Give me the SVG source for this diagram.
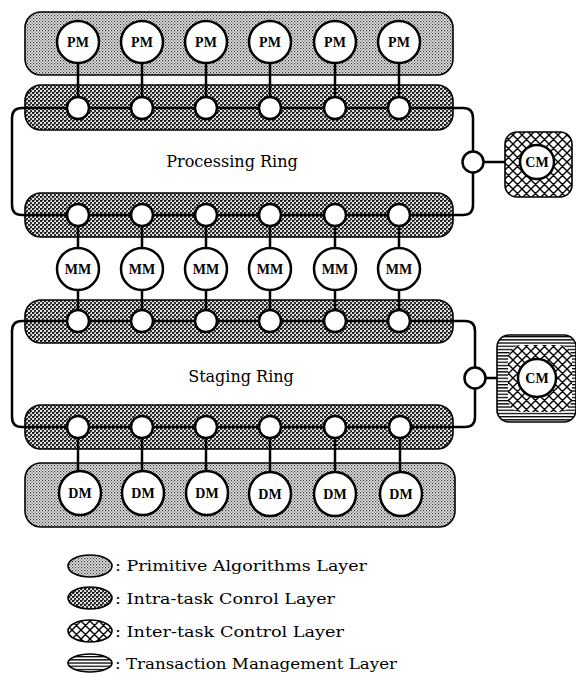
<svg xmlns="http://www.w3.org/2000/svg" width="576" height="673" viewBox="0 0 576 673">
<defs>
<pattern id="pPrim" width="3" height="3" patternUnits="userSpaceOnUse">
<rect width="3" height="3" fill="#e6e6e6"/>
<rect x="0" y="0" width="1.2" height="1.2" fill="#333"/>
<rect x="1.5" y="1.5" width="1.2" height="1.2" fill="#555"/>
</pattern>
<pattern id="pIntra" width="4" height="4" patternUnits="userSpaceOnUse">
<rect width="4" height="4" fill="#e0e0e0"/>
<rect x="0" y="0" width="2" height="2" fill="#222"/>
<rect x="2" y="2" width="2" height="2" fill="#333"/>
<rect x="2" y="0" width="1" height="1" fill="#555"/>
</pattern>
<pattern id="pInter" width="9" height="9" patternUnits="userSpaceOnUse">
<rect width="9" height="9" fill="#fff"/>
<path d="M0 0 L9 9 M9 0 L0 9 M-1 8 L1 10 M8 -1 L10 1 M-1 1 L1 -1 M8 10 L10 8" stroke="#000" stroke-width="1.4"/>
</pattern>
<pattern id="pTrans" width="4" height="3.2" patternUnits="userSpaceOnUse">
<rect width="4" height="3.2" fill="#fff"/>
<rect y="0" width="4" height="1.3" fill="#000"/>
</pattern>
</defs>
<style>
.band{stroke:#000;stroke-width:1.6}
.prim{fill:url(#pPrim)}
.intra{fill:url(#pIntra)}
.inter{fill:url(#pInter)}
.trans{fill:url(#pTrans)}
.wire{fill:none;stroke:#000;stroke-width:2.5}
.node{fill:#fff;stroke:#000;stroke-width:2.5}
.mod{fill:#fff;stroke:#000;stroke-width:2.5}
.lbl{font-family:"Liberation Serif",serif;font-weight:bold;font-size:14px;text-anchor:middle}
.ring{font-family:"DejaVu Serif","Liberation Serif",serif;font-size:16px;text-anchor:middle}
.leg{font-family:"DejaVu Serif","Liberation Serif",serif;font-size:15px}
.legsh{stroke:#000;stroke-width:1.6}
</style>

<g id="layers">
<rect id="pm-band" class="band prim" x="25" y="12" width="428" height="63" rx="16"/>
<rect id="intra-band-1" class="band intra" x="25" y="85" width="428" height="45" rx="16"/>
<rect id="intra-band-2" class="band intra" x="25" y="193" width="428" height="44" rx="16"/>
<rect id="intra-band-3" class="band intra" x="25" y="300" width="428" height="43" rx="16"/>
<rect id="intra-band-4" class="band intra" x="25" y="405" width="428" height="44" rx="16"/>
<rect id="dm-band" class="band prim" x="25" y="463" width="430" height="64" rx="16"/>
</g>

<g id="connectors">
<path class="wire" d="M399 108 H22 Q12 108 12 118 V205 Q12 215 22 215 H463 Q473 215 473 205 V118 Q473 108 463 108 H399"/>
<path class="wire" d="M399 321 H22 Q12 321 12 331 V417 Q12 427 22 427 H465 Q475 427 475 417 V331 Q475 321 465 321 H399"/>
<line class="wire" x1="473" y1="162" x2="520" y2="162"/>
<line class="wire" x1="475" y1="378" x2="518" y2="378"/>
<g id="verticals">
<path class="wire" d="M78 64 V108 M142 64 V108 M206 64 V108 M270 64 V108 M335 64 V108 M399 64 V108"/>
<path class="wire" d="M78 215 V321 M142 215 V321 M206 215 V321 M270 215 V321 M335 215 V321 M399 215 V321"/>
<path class="wire" d="M78 427 V472 M142 427 V472 M206 427 V472 M270 427 V472 M335 427 V472 M400 427 V472"/>
</g>
</g>

<g id="cm-processing">
<rect class="band inter" x="505" y="132" width="67" height="65" rx="12" stroke-width="2"/>
<circle class="mod" cx="537" cy="162" r="17"/>
<text class="lbl" x="537" y="167">CM</text>
</g>
<g id="cm-staging">
<rect class="band trans" x="497" y="335" width="79" height="87" rx="12" stroke-width="2"/>
<rect class="inter" x="508" y="345" width="64" height="67" rx="14"/>
<circle class="mod" cx="537" cy="378" r="19"/>
<text class="lbl" x="537" y="383">CM</text>
</g>

<g id="ring-nodes">
<circle class="node" cx="78" cy="108" r="11"/><circle class="node" cx="142" cy="108" r="11"/><circle class="node" cx="206" cy="108" r="11"/><circle class="node" cx="270" cy="108" r="11"/><circle class="node" cx="335" cy="108" r="11"/><circle class="node" cx="399" cy="108" r="11"/>
<circle class="node" cx="78" cy="215" r="11"/><circle class="node" cx="142" cy="215" r="11"/><circle class="node" cx="206" cy="215" r="11"/><circle class="node" cx="270" cy="215" r="11"/><circle class="node" cx="335" cy="215" r="11"/><circle class="node" cx="399" cy="215" r="11"/>
<circle class="node" cx="78" cy="321" r="11"/><circle class="node" cx="142" cy="321" r="11"/><circle class="node" cx="206" cy="321" r="11"/><circle class="node" cx="270" cy="321" r="11"/><circle class="node" cx="335" cy="321" r="11"/><circle class="node" cx="399" cy="321" r="11"/>
<circle class="node" cx="78" cy="427" r="11"/><circle class="node" cx="142" cy="427" r="11"/><circle class="node" cx="206" cy="427" r="11"/><circle class="node" cx="270" cy="427" r="11"/><circle class="node" cx="335" cy="427" r="11"/><circle class="node" cx="400" cy="427" r="11"/>
<circle class="node" cx="473" cy="162" r="10.5"/>
<circle class="node" cx="475" cy="378" r="10.5"/>
</g>

<g id="pm-nodes">
<g id="pm1"><circle class="mod" cx="78" cy="42" r="21"/><text class="lbl" x="78" y="47">PM</text></g>
<g id="pm2"><circle class="mod" cx="142" cy="42" r="21"/><text class="lbl" x="142" y="47">PM</text></g>
<g id="pm3"><circle class="mod" cx="206" cy="42" r="21"/><text class="lbl" x="206" y="47">PM</text></g>
<g id="pm4"><circle class="mod" cx="270" cy="42" r="21"/><text class="lbl" x="270" y="47">PM</text></g>
<g id="pm5"><circle class="mod" cx="335" cy="42" r="21"/><text class="lbl" x="335" y="47">PM</text></g>
<g id="pm6"><circle class="mod" cx="399" cy="42" r="21"/><text class="lbl" x="399" y="47">PM</text></g>
</g>

<g id="mm-nodes">
<g id="mm1"><circle class="mod" cx="78" cy="269" r="21"/><text class="lbl" x="78" y="274">MM</text></g>
<g id="mm2"><circle class="mod" cx="142" cy="269" r="21"/><text class="lbl" x="142" y="274">MM</text></g>
<g id="mm3"><circle class="mod" cx="206" cy="269" r="21"/><text class="lbl" x="206" y="274">MM</text></g>
<g id="mm4"><circle class="mod" cx="270" cy="269" r="21"/><text class="lbl" x="270" y="274">MM</text></g>
<g id="mm5"><circle class="mod" cx="335" cy="269" r="21"/><text class="lbl" x="335" y="274">MM</text></g>
<g id="mm6"><circle class="mod" cx="399" cy="269" r="21"/><text class="lbl" x="399" y="274">MM</text></g>
</g>

<g id="dm-nodes">
<g id="dm1"><ellipse class="mod" cx="80" cy="493" rx="21" ry="22"/><text class="lbl" x="80" y="498">DM</text></g>
<g id="dm2"><ellipse class="mod" cx="143" cy="493" rx="21" ry="22"/><text class="lbl" x="143" y="498">DM</text></g>
<g id="dm3"><ellipse class="mod" cx="207" cy="493" rx="21" ry="22"/><text class="lbl" x="207" y="498">DM</text></g>
<g id="dm4"><ellipse class="mod" cx="270" cy="494" rx="21" ry="22"/><text class="lbl" x="270" y="499">DM</text></g>
<g id="dm5"><ellipse class="mod" cx="335" cy="494" rx="21" ry="22"/><text class="lbl" x="335" y="499">DM</text></g>
<g id="dm6"><ellipse class="mod" cx="401" cy="494" rx="21" ry="22"/><text class="lbl" x="401" y="499">DM</text></g>
</g>

<g id="ring-labels">
<text class="ring" x="232" y="167">Processing Ring</text>
<text class="ring" x="241" y="382">Staging Ring</text>
</g>

<g id="legend">
<ellipse class="legsh prim" cx="90" cy="566" rx="22" ry="11"/>
<text class="leg" x="115" y="571" textLength="252" lengthAdjust="spacingAndGlyphs">: Primitive Algorithms Layer</text>
<ellipse class="legsh intra" cx="90" cy="598" rx="22" ry="11"/>
<text class="leg" x="115" y="604" textLength="220" lengthAdjust="spacingAndGlyphs">: Intra-task Conrol Layer</text>
<ellipse class="legsh inter" cx="90" cy="631" rx="22" ry="11"/>
<text class="leg" x="115" y="637" textLength="229" lengthAdjust="spacingAndGlyphs">: Inter-task Control Layer</text>
<ellipse class="legsh trans" cx="90" cy="663" rx="22" ry="9"/>
<text class="leg" x="115" y="669" textLength="282" lengthAdjust="spacingAndGlyphs">: Transaction Management Layer</text>
</g>
</svg>
